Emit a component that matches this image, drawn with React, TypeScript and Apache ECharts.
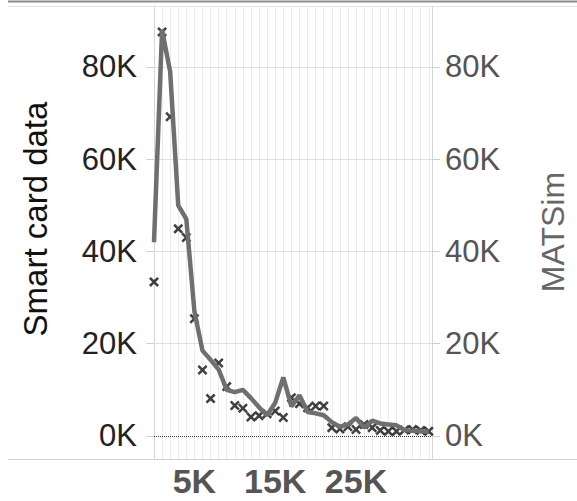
import React, { useEffect, useRef } from "react";
import * as echarts from "echarts";

// distance bins (thousands)
const distanceK = [0, 1, 2, 3, 4, 5, 6, 7, 8, 9, 10, 11, 12, 13, 14, 15, 16, 17, 18, 19, 20, 21, 22, 23, 24, 25, 26, 27, 28, 29, 30, 31, 32, 33, 34];
// MATSim (line, right axis)
const matsim = [42000, 88000, 79000, 50000, 47000, 27000, 18500, 16500, 14400, 10000, 9500, 10000, 8200, 6200, 4500, 7200, 12700, 6400, 8800, 5200, 4900, 4500, 3000, 2000, 2500, 3900, 1800, 3300, 2700, 2500, 2300, 1300, 1100, 1000, 900];
// Smart card data (crosses, left axis)
const smartCard = [33400, 87600, 69200, 44900, 43000, 25400, 14300, 8100, 15800, 10700, 6600, 6000, 4100, 4400, 4800, 5400, 4000, 8300, 7000, 6100, 6500, 6500, 1800, 1500, 2000, 1400, 2500, 1800, 1200, 1000, 1000, 1300, 1400, 1200, 1000];
const yTicks = [0, 20000, 40000, 60000, 80000];
const xTicks = [5000, 15000, 25000];
const xGrid = [1000, 2000, 3000, 4000, 5000, 6000, 7000, 8000, 9000, 10000, 11000, 12000, 13000, 14000, 15000, 16000, 17000, 18000, 19000, 20000, 21000, 22000, 23000, 24000, 25000, 26000, 27000, 28000, 29000, 30000, 31000, 32000, 33000, 34000];

const FONT = "'Liberation Sans', Arial, sans-serif";
const CROSS = "path://M0,1.8L1.8,0L5,3.2L8.2,0L10,1.8L6.8,5L10,8.2L8.2,10L5,6.8L1.8,10L0,8.2L3.2,5Z";

export default function App() {
  const ref = useRef<HTMLDivElement>(null);
  useEffect(() => {
    if (!ref.current) return;
    const chart = echarts.init(ref.current, null, { renderer: "svg" });
    const kFmt = (v: number) => Math.round(v / 1000) + "K";
    const yAxisBase = (pos: "left" | "right", color: string, margin: number) => ({
      type: "value",
      position: pos,
      min: -5000,
      max: 93000,
      axisLine: { show: true, lineStyle: { color: "#d6d6d6", width: 1 } },
      axisTick: { show: true, customValues: yTicks, length: 8, lineStyle: { color: "#cfcfcf" } },
      axisLabel: { customValues: yTicks, formatter: kFmt, fontSize: 31, color, margin, fontFamily: FONT },
      splitLine: { show: false },
    });
    chart.setOption({
      animation: false,
      grid: { left: 154, right: 145, top: 7, bottom: 42, containLabel: false },
      xAxis: {
        type: "value",
        min: 0,
        max: 34400,
        axisLine: { show: false },
        axisTick: { show: true, customValues: xTicks, length: 5, lineStyle: { color: "#cfcfcf" } },
        axisLabel: { customValues: xTicks, formatter: kFmt, fontSize: 34, fontWeight: "bold", color: "#555555", margin: 5, fontFamily: FONT },
        splitLine: { show: false },
      },
      yAxis: [yAxisBase("left", "#222222", 17), yAxisBase("right", "#555555", 13)],
      graphic: [
        { type: "line", shape: { x1: 8, y1: 1.5, x2: 577, y2: 1.5 }, style: { stroke: "#8c8c8c", lineWidth: 2 }, silent: true },
        { type: "line", shape: { x1: 8, y1: 6.5, x2: 577, y2: 6.5 }, style: { stroke: "#e2e2e2", lineWidth: 1 }, silent: true },
        { type: "line", shape: { x1: 8, y1: 459.5, x2: 577, y2: 459.5 }, style: { stroke: "#d2d2d2", lineWidth: 1 }, silent: true },
        {
          type: "text", x: 35, y: 219, rotation: Math.PI / 2,
          style: { text: "Smart card data", fontSize: 33, fontFamily: FONT, fill: "#111111", align: "center", verticalAlign: "middle" },
        },
        {
          type: "text", x: 553, y: 232, rotation: Math.PI / 2,
          style: { text: "MATSim", fontSize: 32, fontFamily: FONT, fill: "#666666", align: "center", verticalAlign: "middle" },
        },
      ],
      series: [
        {
          name: "Smart card data",
          type: "scatter",
          yAxisIndex: 0,
          z: 2,
          symbol: CROSS,
          symbolSize: 10,
          itemStyle: { color: "#111111" },
          data: distanceK.map((d, i) => [d * 1000, smartCard[i]]),
          markLine: {
            silent: true,
            z: 1,
            symbol: "none",
            label: { show: false },
            data: [
              ...xGrid.map((v) => ({ xAxis: v, lineStyle: { color: "#ebebeb", width: 1, type: "solid" } })),
              ...yTicks.filter((v) => v > 0).map((v) => ({ yAxis: v, lineStyle: { color: "#e0e0e0", width: 1, type: "solid" } })),
              { yAxis: 0, lineStyle: { color: "#333333", width: 1, type: "dotted" } },
            ],
          },
        },
        {
          name: "MATSim",
          type: "line",
          yAxisIndex: 1,
          z: 3,
          showSymbol: false,
          symbol: "none",
          lineStyle: { color: "#6f6f6f", width: 4.5 },
          data: distanceK.map((d, i) => [d * 1000, matsim[i]]),
        },
      ],
    });
    return () => chart.dispose();
  }, []);
  return <div ref={ref} style={{ position: "fixed", left: 0, top: 0, width: 577, height: 501, background: "#fff" }} />;
}
